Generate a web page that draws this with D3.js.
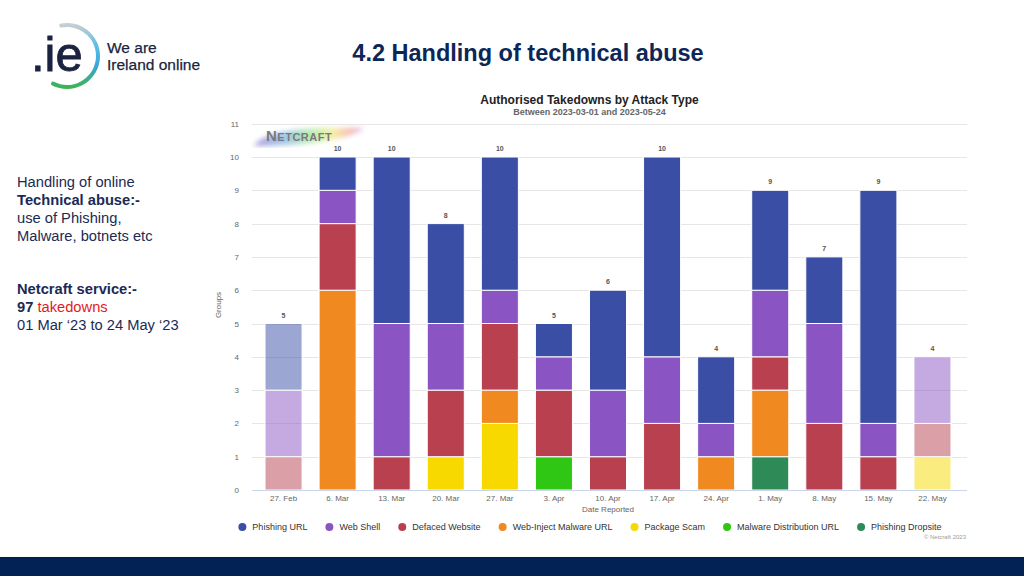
<!DOCTYPE html>
<html><head><meta charset="utf-8">
<script src="https://cdn.jsdelivr.net/npm/d3@7"></script>
<style>
html,body{margin:0;padding:0;background:#fff;}
svg{display:block;font-family:"Liberation Sans",Arial,sans-serif;}
</style></head>
<body>
<svg id="c" width="1024" height="576"></svg>
<script>
const categories = ["27. Feb","6. Mar","13. Mar","20. Mar","27. Mar","3. Apr","10. Apr","17. Apr","24. Apr","1. May","8. May","15. May","22. May"];
const seriesNames = ["Phishing URL","Web Shell","Defaced Website","Web-Inject Malware URL","Package Scam","Malware Distribution URL","Phishing Dropsite"];
const seriesColors = ["#3a4ea5","#8a55c2","#b8404f","#f0891f","#f7d900","#2fc614","#2e8b57"];
// values per series, one per category
const phishingURL      = [2,1,5,3,4,1,3,6,2,3,2,7,0];
const webShell         = [2,1,4,2,1,1,2,2,1,2,3,1,2];
const defacedWebsite   = [1,2,1,2,2,2,1,2,0,1,2,1,1];
const webInjectMalware = [0,6,0,0,1,0,0,0,1,2,0,0,0];
const packageScam      = [0,0,0,1,2,0,0,0,0,0,0,0,1];
const malwareDistURL   = [0,0,0,0,0,1,0,0,0,0,0,0,0];
const phishingDropsite = [0,0,0,0,0,0,0,0,0,1,0,0,0];
const partialPeriods   = ["27. Feb","22. May"];
const yTicks = [0,1,2,3,4,5,6,7,8,9,10,11];

const seriesValues = [phishingURL,webShell,defacedWebsite,webInjectMalware,packageScam,malwareDistURL,phishingDropsite];

const svg = d3.select("#c");

// ---------- header / logo ----------
const logo = svg.append("g");
const defs = svg.append("defs");
const rg = defs.append("linearGradient").attr("id","ringGrad").attr("x1","0").attr("y1","0").attr("x2","0").attr("y2","1");
rg.append("stop").attr("offset","0%").attr("stop-color","#d0d0d0");
rg.append("stop").attr("offset","35%").attr("stop-color","#5bbde6");
rg.append("stop").attr("offset","65%").attr("stop-color","#3aa6d8");
rg.append("stop").attr("offset","100%").attr("stop-color","#3db54a");
const arc = d3.arc().innerRadius(29).outerRadius(33).startAngle(-0.25).endAngle(Math.PI*1.17).cornerRadius(2);
logo.append("path").attr("d",arc()).attr("transform","translate(67,56)").attr("fill","url(#ringGrad)");
logo.append("text").attr("x",31).attr("y",71).attr("font-size",49).attr("fill","#1b2341").attr("stroke","#1b2341").attr("stroke-width",0.8).text(".ie");
logo.append("text").attr("x",107).attr("y",53).attr("font-size",15.5).attr("fill","#1a2440").attr("stroke","#1a2440").attr("stroke-width",0.25).text("We are");
logo.append("text").attr("x",107).attr("y",70).attr("font-size",15.5).attr("fill","#1a2440").attr("stroke","#1a2440").attr("stroke-width",0.25).text("Ireland online");

svg.append("text").attr("x",528).attr("y",61).attr("text-anchor","middle").attr("font-size",23.5).attr("font-weight","bold").attr("fill","#0c2756").text("4.2 Handling of technical abuse");

// ---------- left text ----------
const navy = "#1b2a55";
const lt = svg.append("g").attr("font-size",14.7).attr("fill",navy);
lt.append("text").attr("x",17).attr("y",187).text("Handling of online");
lt.append("text").attr("x",17).attr("y",205).attr("font-weight","bold").text("Technical abuse:-");
lt.append("text").attr("x",17).attr("y",223).text("use of Phishing,");
lt.append("text").attr("x",17).attr("y",241).text("Malware, botnets etc");
lt.append("text").attr("x",17).attr("y",294).attr("font-weight","bold").text("Netcraft service:-");
const t97 = lt.append("text").attr("x",17).attr("y",312);
t97.append("tspan").attr("font-weight","bold").text("97 ");
t97.append("tspan").attr("fill","#e21c1c").text("takedowns");
lt.append("text").attr("x",17).attr("y",330).text("01 Mar \u201823 to 24 May \u201823");

// ---------- footer ----------
svg.append("rect").attr("x",0).attr("y",557).attr("width",1024).attr("height",19).attr("fill","#022155");
svg.append("rect").attr("x",0).attr("y",557).attr("width",1024).attr("height",1).attr("fill","#0a1a33");

// ---------- chart ----------
const plotL = 252, plotR = 967;
const x = d3.scaleBand().domain(categories).range([256.5,959.5]).paddingInner(0.315).paddingOuter(0.1575);
const y = d3.scaleLinear().domain([0,11]).range([490,123.7]);

const ch = svg.append("g");
ch.append("text").attr("x",589.5).attr("y",104).attr("text-anchor","middle").attr("font-size",12).attr("font-weight","bold").attr("fill","#222").text("Authorised Takedowns by Attack Type");
ch.append("text").attr("x",589.5).attr("y",115).attr("text-anchor","middle").attr("font-size",9).attr("font-weight","bold").attr("fill","#666").text("Between 2023-03-01 and 2023-05-24");

// gridlines
ch.append("g").selectAll("line").data(yTicks.filter(d=>d>0)).join("line")
  .attr("x1",plotL).attr("x2",plotR).attr("y1",d=>Math.round(y(d))+0.5).attr("y2",d=>Math.round(y(d))+0.5)
  .attr("stroke","#e6e6e6");

// watermark
const wg = defs.append("linearGradient").attr("id","rainbow").attr("x1","0").attr("x2","1");
[["0%","#9a7fd0"],["25%","#7fb0e8"],["50%","#9ee39a"],["72%","#f3e98a"],["88%","#f2a7a0"],["100%","#c9a5e6"]].forEach(s=>wg.append("stop").attr("offset",s[0]).attr("stop-color",s[1]));
defs.append("filter").attr("id","blur").append("feGaussianBlur").attr("stdDeviation",2.5);
ch.append("path").attr("d","M254,146 C262,132 300,126 364,128 C352,140 300,146 254,146 Z").attr("fill","url(#rainbow)").attr("opacity",0.75).attr("filter","url(#blur)");
const wm = ch.append("text").attr("x",266).attr("y",141).attr("fill","#7a7a7a").attr("font-weight","bold").attr("letter-spacing",0.5);
wm.append("tspan").attr("font-size",15).text("N");
wm.append("tspan").attr("font-size",11).text("ETCRAFT");

// y axis
const yAxis = d3.axisLeft(y).tickValues(yTicks).tickSize(0).tickPadding(0);
const ya = ch.append("g").attr("transform","translate(239,0)").call(yAxis);
ya.select(".domain").remove();
ya.selectAll("text").attr("font-size",8).attr("fill","#666").attr("font-family","Liberation Sans, Arial, sans-serif").attr("dy","0.32em");

ch.append("text").attr("transform","translate(221,305) rotate(-90)").attr("text-anchor","middle").attr("font-size",8).attr("fill","#666").text("Groups");

// stacks
const rows = categories.map((c,i)=>{ const o={cat:c}; seriesNames.forEach((s,j)=>o[s]=seriesValues[j][i]); return o;});
const stackOrder = seriesNames.slice().reverse(); // bottom: Phishing Dropsite
const stacked = d3.stack().keys(stackOrder)(rows);
const color = d3.scaleOrdinal().domain(seriesNames).range(seriesColors);
ch.append("g").selectAll("g").data(stacked).join("g").attr("fill",d=>color(d.key))
  .selectAll("rect").data(d=>d.filter(p=>p[1]>p[0])).join("rect")
  .attr("x",d=>x(d.data.cat)).attr("width",x.bandwidth())
  .attr("y",d=>y(d[1])).attr("height",d=>y(d[0])-y(d[1]))
  .attr("fill-opacity",d=>partialPeriods.includes(d.data.cat)?0.5:1)
  .attr("stroke","#fff").attr("stroke-width",1);

// totals
ch.append("g").selectAll("text").data(rows).join("text")
  .attr("x",d=>x(d.cat)+x.bandwidth()/2)
  .attr("y",d=>y(d3.sum(seriesNames,s=>d[s]))-6)
  .attr("text-anchor","middle").attr("font-size",7).attr("font-weight","bold").attr("fill","#555")
  .text(d=>d3.sum(seriesNames,s=>d[s]));

// x axis
ch.append("line").attr("x1",plotL).attr("x2",plotR).attr("y1",490.5).attr("y2",490.5).attr("stroke","#ccd6eb");
const xAxis = d3.axisBottom(x).tickSize(0).tickPadding(0);
const xa = ch.append("g").attr("transform","translate(0,495)").call(xAxis);
xa.select(".domain").remove();
xa.selectAll("text").attr("font-size",8).attr("fill","#666").attr("font-family","Liberation Sans, Arial, sans-serif").attr("dy","0.71em");
ch.append("text").attr("x",608).attr("y",512).attr("text-anchor","middle").attr("font-size",8).attr("fill","#666").text("Date Reported");

// legend
const lg = ch.append("g").attr("font-size",9).attr("fill","#333");
let cx = 0; const items=[];
const gap = 18;
seriesNames.forEach((s,i)=>{
  const g = lg.append("g");
  g.append("circle").attr("cx",4).attr("cy",0).attr("r",4).attr("fill",seriesColors[i]);
  const t = g.append("text").attr("x",14).attr("y",3.2).attr("font-weight",500).text(s);
  const w = 14 + t.node().getComputedTextLength();
  items.push({g,x:cx}); cx += w + gap;
});
const totalW = cx - gap;
const startX = 590 - totalW/2;
items.forEach(it=>it.g.attr("transform",`translate(${startX+it.x},527)`));

ch.append("text").attr("x",966).attr("y",539).attr("text-anchor","end").attr("font-size",6).attr("fill","#999").text("\u00a9 Netcraft 2023");
</script>
</body></html>
